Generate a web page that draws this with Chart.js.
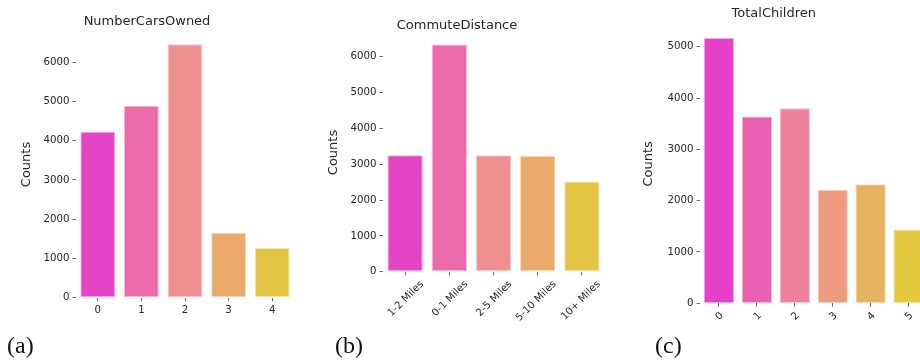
<!DOCTYPE html>
<html>
<head>
<meta charset="utf-8">
<script src="https://cdn.jsdelivr.net/npm/chart.js@4.4.1/dist/chart.umd.min.js"></script>
<style>
  html, body { margin: 0; padding: 0; background: #ffffff; }
  body { width: 920px; height: 364px; position: relative; overflow: hidden; }
  .panel { position: absolute; top: 0; height: 364px; }
  .panel canvas { display: block; }
  .tag {
    position: absolute; font-family: "Liberation Serif", "Times New Roman", serif;
    font-size: 24px; color: #111; line-height: 1; white-space: nowrap;
  }
</style>
</head>
<body>
<div class="panel" style="left:0px;width:310px"><canvas id="cars" width="310" height="364"></canvas></div>
<div class="panel" style="left:310px;width:310px"><canvas id="commute" width="310" height="364"></canvas></div>
<div class="panel" style="left:620px;width:320px"><canvas id="children" width="320" height="364"></canvas></div>
<div class="tag" style="left:7px;top:333px">(a)</div>
<div class="tag" style="left:335px;top:333px">(b)</div>
<div class="tag" style="left:655px;top:333px">(c)</div>

<script>
// Customer counts per category
const carLabels = ['0', '1', '2', '3', '4'];
const carCounts = [4230, 4890, 6460, 1650, 1265];

const commuteLabels = ['1-2 Miles', '0-1 Miles', '2-5 Miles', '5-10 Miles', '10+ Miles'];
const commuteCounts = [3250, 6340, 3250, 3235, 2520];

const childLabels = ['0', '1', '2', '3', '4', '5'];
const childCounts = [5170, 3640, 3800, 2210, 2320, 1440];

// Y tick values shown on each axis
const carTicks = [0, 1000, 2000, 3000, 4000, 5000, 6000];
const commuteTicks = [0, 1000, 2000, 3000, 4000, 5000, 6000];
const childTicks = [0, 1000, 2000, 3000, 4000, 5000];

// "spring" palette, softened
const spring5 = ['#E445C5', '#EA6AAA', '#EF8F8F', '#EAAA6A', '#E4C545'];
const spring6 = ['#E440C8', '#E860B1', '#ED809B', '#ED9B80', '#E8B160', '#E4C840'];

const TEXT = '#262626';
const FONT = "'DejaVu Sans', sans-serif";

function tint(hex, amt) {
  const n = parseInt(hex.slice(1), 16);
  const c = [(n >> 16) & 255, (n >> 8) & 255, n & 255].map(v => Math.round(v + (255 - v) * amt));
  return 'rgb(' + c.join(',') + ')';
}

function makePanel(id, p) {
  return new Chart(document.getElementById(id), {
    type: 'bar',
    data: {
      labels: p.labels,
      datasets: [{
        data: p.values,
        backgroundColor: p.colors,
        borderColor: p.colors.map(c => tint(c, 0.55)),
        borderWidth: 1,
        borderSkipped: false,
        barPercentage: 0.8,
        categoryPercentage: 1.0
      }]
    },
    options: {
      responsive: false,
      animation: false,
      devicePixelRatio: 1,
      layout: { padding: { left: 0, right: p.padRight, top: 0, bottom: 0 } },
      plugins: {
        legend: { display: false },
        tooltip: { enabled: false },
        title: {
          display: true,
          text: p.title,
          color: TEXT,
          font: { family: FONT, size: 13, weight: 'normal', lineHeight: 1.2 },
          padding: p.titlePad
        }
      },
      scales: {
        x: {
          type: 'category',
          offset: true,
          border: { display: false },
          grid: {
            display: true, drawOnChartArea: false, drawTicks: true,
            tickLength: 3.5, color: '#444', lineWidth: 0.8, offset: false
          },
          ticks: {
            color: TEXT,
            font: { family: FONT, size: 10.2 },
            padding: 3,
            minRotation: p.rotation,
            maxRotation: p.rotation,
            autoSkip: false,
            labelOffset: p.labelOffset
          },
          afterFit(scale) { scale.height = p.xHeight; }
        },
        y: {
          type: 'linear',
          min: 0,
          max: p.yMax,
          border: { display: false },
          grid: {
            display: true, drawOnChartArea: false, drawTicks: true,
            tickLength: 3.5, color: '#444', lineWidth: 0.8
          },
          ticks: {
            color: TEXT,
            font: { family: FONT, size: 10.2 },
            padding: 3,
            callback: v => String(v)
          },
          afterBuildTicks(scale) { scale.ticks = p.yTicks.map(v => ({ value: v })); },
          title: {
            display: true,
            text: 'Counts',
            color: TEXT,
            font: { family: FONT, size: 13, lineHeight: 1.2 },
            padding: { top: p.countsPad, bottom: 0 }
          },
          afterFit(scale) { scale.width = p.yWidth; }
        }
      }
    }
  });
}

makePanel('cars', {
  title: 'NumberCarsOwned', labels: carLabels, values: carCounts, colors: spring5,
  yTicks: carTicks, yMax: 6790, yWidth: 76, xHeight: 66.3, padRight: 16,
  titlePad: { top: 13.9, bottom: 1.8 }, countsPad: 18.5, rotation: 0, labelOffset: 0
});

makePanel('commute', {
  title: 'CommuteDistance', labels: commuteLabels, values: commuteCounts, colors: spring5,
  yTicks: commuteTicks, yMax: 6653, yWidth: 73, xHeight: 92.3, padRight: 16,
  titlePad: { top: 17.7, bottom: 0 }, countsPad: 15.8, rotation: 45, labelOffset: 17
});

makePanel('children', {
  title: 'TotalChildren', labels: childLabels, values: childCounts, colors: spring6,
  yTicks: childTicks, yMax: 5434, yWidth: 80, xHeight: 60.7, padRight: 12.5,
  titlePad: { top: 5.5, bottom: 3.3 }, countsPad: 20.8, rotation: 45, labelOffset: 3
});
</script>
</body>
</html>
